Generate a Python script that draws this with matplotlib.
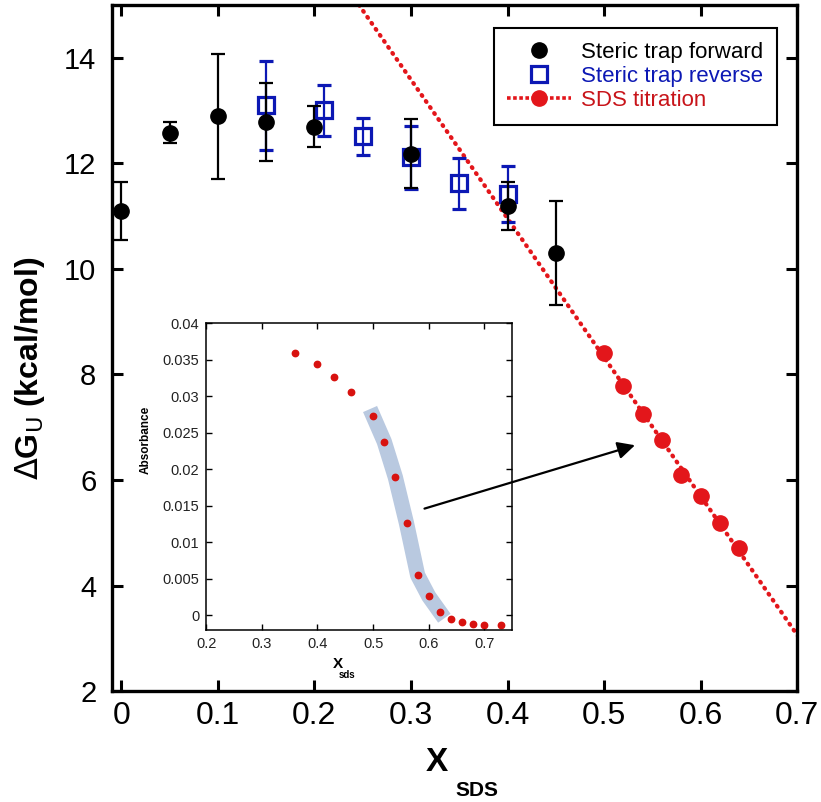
import numpy as np
import matplotlib
matplotlib.use('Agg')
import matplotlib.pyplot as plt
from matplotlib.lines import Line2D
from matplotlib.ticker import FuncFormatter

plt.rcParams['font.family'] = ['Liberation Sans', 'DejaVu Sans']

# steric trap forward
fwd_x = [0.0, 0.05, 0.10, 0.15, 0.20, 0.30, 0.40, 0.45]
fwd_y = [11.10, 12.58, 12.89, 12.78, 12.69, 12.18, 11.19, 10.30]
fwd_err = [0.55, 0.20, 1.18, 0.73, 0.39, 0.65, 0.45, 0.98]

# steric trap reverse
rev_x = [0.15, 0.21, 0.25, 0.30, 0.35, 0.40]
rev_y = [13.10, 13.00, 12.51, 12.11, 11.62, 11.41]
rev_err = [0.84, 0.49, 0.35, 0.60, 0.48, 0.53]

# SDS titration
sds_x = [0.50, 0.52, 0.54, 0.56, 0.58, 0.60, 0.62, 0.64]
sds_y = [8.40, 7.78, 7.26, 6.75, 6.10, 5.70, 5.18, 4.71]

# inset: absorbance vs X_sds
abs_x = [0.36, 0.40, 0.43, 0.46, 0.50, 0.52, 0.54, 0.56, 0.58, 0.60,
         0.62, 0.64, 0.66, 0.68, 0.70, 0.73]
abs_y = [0.0359, 0.0344, 0.0326, 0.0306, 0.0273, 0.0238, 0.0189, 0.0126,
         0.0055, 0.0026, 0.00046, -0.00046, -0.0009, -0.00114, -0.00128,
         -0.00128]

# arrow from inset to the titration line (main data coords)
arrow_start = (0.314, 5.46)
arrow_end = (0.532, 6.66)

BLUE = '#0c18b4'
RED = '#e3161b'

fig = plt.figure(figsize=(8.21, 8.02), dpi=100)
ax = fig.add_axes([0.136, 0.138, 0.835, 0.856])

# linear fit through titration points, extrapolated
k, b = np.polyfit(sds_x, sds_y, 1)
xf = np.linspace(0.2, 0.72, 200)
ax.plot(xf, k * xf + b, color=RED, lw=3.1, ls=(0, (0.2, 1.5)),
        dash_capstyle='round', zorder=1)
ax.plot(sds_x, sds_y, 'o', color=RED, ms=11, zorder=2)

ax.errorbar(rev_x, rev_y, yerr=rev_err, fmt='s', mfc='none', mec=BLUE,
            mew=2.3, ms=12, ecolor=BLUE, elinewidth=1.6, capsize=5,
            capthick=1.6, zorder=3)
ax.errorbar(fwd_x, fwd_y, yerr=fwd_err, fmt='o', color='k', ms=11,
            elinewidth=1.6, capsize=5, capthick=1.6, zorder=4)

ax.set_xlim(-0.01, 0.7)
ax.set_ylim(2, 15)
ax.set_xticks(np.arange(0, 0.71, 0.1))
ax.set_xticklabels(['0', '0.1', '0.2', '0.3', '0.4', '0.5', '0.6', '0.7'])
ax.set_yticks(np.arange(2, 15, 2))
for s in ax.spines.values():
    s.set_linewidth(2.4)
ax.tick_params(direction='in', length=8, width=2.2, top=True, right=True)
ax.tick_params(axis='x', labelsize=23, pad=7)
ax.tick_params(axis='y', labelsize=21, pad=11)

ax.set_ylabel(r'$\Delta$G$_{\rm U}$ (kcal/mol)', fontsize=23,
              fontweight='bold')
ax.yaxis.set_label_coords(-0.095, 0.471)
fig.text(0.532, 0.0385, 'X', fontsize=24, fontweight='bold',
         ha='center', va='baseline')
fig.text(0.581, 0.007, 'SDS', fontsize=15, fontweight='bold',
         ha='center', va='baseline')

handles = [
    Line2D([], [], ls='none', marker='o', color='k', ms=11),
    Line2D([], [], ls='none', marker='s', mfc='none', mec=BLUE, mew=2.3,
           ms=11),
    Line2D([], [], color=RED, lw=2.6, ls=(0, (1.0, 0.7)), marker='o', ms=11),
]
leg = ax.legend(handles, ['Steric trap forward', 'Steric trap reverse',
                          'SDS titration'],
                loc='upper right', bbox_to_anchor=(0.946, 0.9647),
                bbox_transform=fig.transFigure, fontsize=16,
                fancybox=False, framealpha=1, edgecolor='k',
                handlelength=2.85, handletextpad=0.45, labelspacing=0.13,
                borderpad=0.62, borderaxespad=0)
leg.get_frame().set_linewidth(1.5)
for t, c in zip(leg.get_texts(), ['k', BLUE, '#c8141a']):
    t.set_color(c)

# inset
ax_in = fig.add_axes([0.251, 0.2145, 0.373, 0.3824])
ax_in.set_facecolor('white')
band = [(x, y) for x, y in zip(abs_x, abs_y) if 0.49 < x < 0.63]
ax_in.plot([p[0] for p in band], [p[1] for p in band], color='#b9c9e0',
           lw=11, solid_capstyle='projecting', solid_joinstyle='round',
           zorder=1)
ax_in.plot(abs_x, abs_y, 'o', color='#d8120f', ms=4.6, zorder=2)
ax_in.set_xlim(0.2, 0.75)
ax_in.set_ylim(-0.002, 0.04)
ax_in.set_xticks(np.arange(0.2, 0.71, 0.1))
ax_in.set_yticks(np.arange(0, 0.0401, 0.005))
ax_in.xaxis.set_major_formatter(FuncFormatter(lambda v, p: '{:g}'.format(round(v, 3))))
ax_in.yaxis.set_major_formatter(FuncFormatter(lambda v, p: '{:g}'.format(round(v, 4))))
for s in ax_in.spines.values():
    s.set_linewidth(1.1)
ax_in.tick_params(direction='in', length=4, width=1, top=True, right=True,
                  labelsize=10.5, pad=5, labelcolor='#222222')
fig.text(0.178, 0.451, 'Absorbance', fontsize=8.5, fontweight='bold',
         rotation=90, ha='center', va='center')
fig.text(0.412, 0.167, 'X', fontsize=11, fontweight='bold',
         ha='center', va='baseline')
fig.text(0.423, 0.155, 'sds', fontsize=7, fontweight='bold',
         ha='center', va='baseline')

ax_in.annotate('', xy=arrow_end, xycoords=ax.transData,
               xytext=arrow_start, textcoords=ax.transData,
               arrowprops=dict(arrowstyle='-|>', color='k', lw=1.6,
                               mutation_scale=26, shrinkA=0, shrinkB=0),
               annotation_clip=False)

plt.savefig('out.png', dpi=100)
